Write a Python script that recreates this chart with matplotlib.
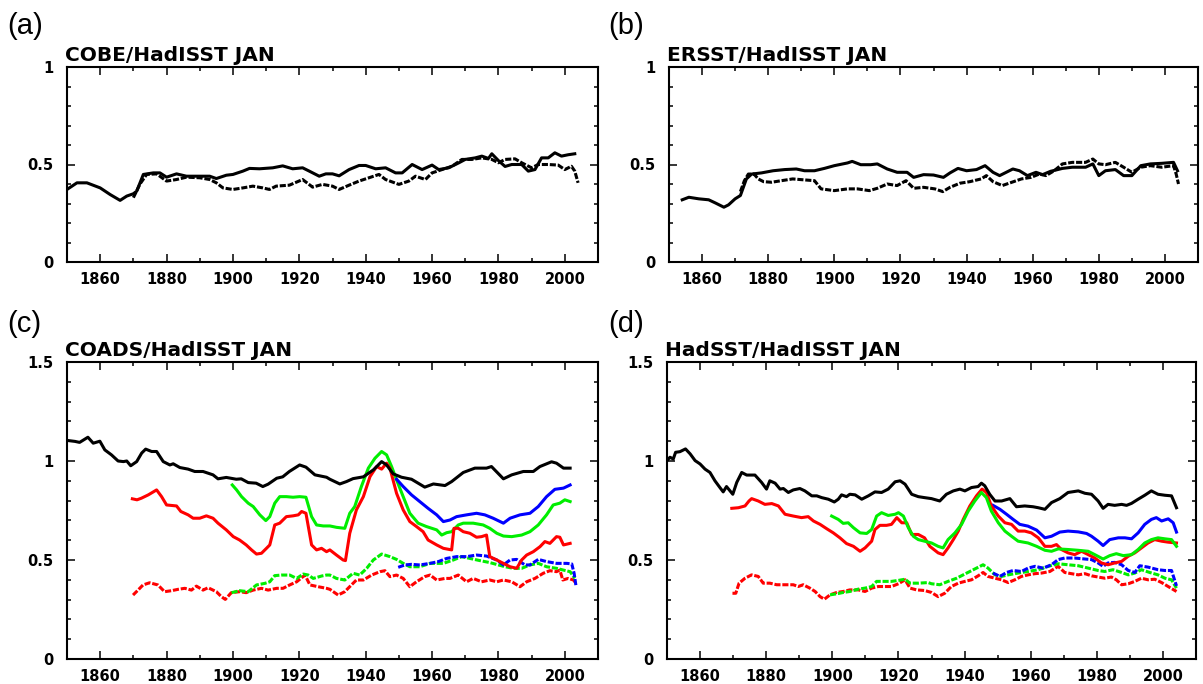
import numpy as np
import matplotlib
matplotlib.use("Agg")
import matplotlib.pyplot as plt
from matplotlib.ticker import MultipleLocator

# ---- (a) COBE / HadISST ----
a_solid_yr = [1850,1853,1856,1860,1863,1866,1868,1870,1871,1873,1876,1878,1880,1883,1886,1890,1893,1895,1898,1900,
              1903,1905,1908,1912,1915,1918,1921,1923,1926,1928,1930,1932,1935,1938,1940,1943,1946,1949,1951,1954,
              1957,1960,1962,1965,1968,1970,1973,1975,1977,1978,1980,1982,1984,1987,1989,1991,1993,1995,1997,1999,
              2001,2003]
a_solid = [0.372,0.406,0.406,0.38,0.346,0.316,0.338,0.35,0.363,0.449,0.457,0.457,0.435,0.452,0.44,0.44,0.44,0.428,0.445,0.449,
           0.466,0.48,0.478,0.483,0.493,0.478,0.483,0.466,0.44,0.452,0.452,0.442,0.474,0.495,0.495,0.478,0.483,0.457,0.457,0.5,
           0.474,0.497,0.474,0.483,0.508,0.526,0.534,0.543,0.531,0.555,0.52,0.49,0.5,0.5,0.466,0.474,0.534,0.534,0.56,0.543,
           0.55,0.555]
a_dash_yr = [1870,1872,1874,1877,1880,1883,1886,1890,1893,1895,1897,1900,1903,1906,1909,1911,1913,1917,1921,1924,
             1927,1930,1932,1935,1938,1941,1944,1946,1950,1953,1955,1958,1960,1963,1966,1969,1972,1975,1978,1980,
             1982,1985,1987,1990,1992,1995,1998,2000,2002,2003,2004]
a_dash = [0.33,0.40,0.449,0.452,0.415,0.423,0.435,0.432,0.423,0.406,0.38,0.372,0.38,0.389,0.38,0.372,0.389,0.394,0.423,0.384,
          0.398,0.389,0.372,0.394,0.415,0.432,0.449,0.423,0.398,0.415,0.44,0.423,0.457,0.474,0.491,0.526,0.526,0.534,0.526,0.509,
          0.526,0.529,0.509,0.483,0.5,0.5,0.497,0.474,0.491,0.466,0.406]

# ---- (b) ERSST / HadISST ----
b_solid_yr = [1854,1856,1859,1862,1864,1866.6,1868,1870,1871.6,1873.4,1875,1878,1881.5,1885,1888.5,1891,1894,1897,1900,1904,
              1905.4,1908,1911,1913,1916,1919,1922,1924,1927,1930,1933,1935,1937.4,1940,1943,1945.6,1948,1950,1954,1956,
              1958.4,1961,1963,1965.4,1969,1972,1976,1978.2,1980,1982,1985,1987.5,1990,1992.7,1995.6,1999,2002.6,2003.8]
b_solid = [0.319,0.332,0.324,0.319,0.303,0.281,0.293,0.324,0.341,0.426,0.451,0.457,0.468,0.474,0.477,0.468,0.468,0.48,0.494,0.508,
           0.516,0.499,0.499,0.503,0.477,0.46,0.46,0.434,0.448,0.446,0.434,0.457,0.48,0.468,0.474,0.494,0.46,0.443,0.477,0.468,
           0.443,0.46,0.448,0.465,0.48,0.486,0.486,0.503,0.443,0.468,0.474,0.443,0.443,0.494,0.503,0.506,0.511,0.468]
b_dash_yr = [1871.6,1872.8,1874,1875.7,1877,1878.6,1881,1884,1887.4,1891,1894,1896,1900,1904,1907,1910.6,1913,1916,1919,1921.7,
             1924,1927,1930.4,1932.8,1935,1938,1941,1944.4,1946,1948,1950.8,1953.7,1956.6,1959.5,1962,1964,1966.5,1969,1972,1976,
             1978.2,1980,1982,1985,1987.5,1990,1992.7,1995.6,1999,2002.6,2003.4,2004.1]
b_dash = [0.361,0.417,0.451,0.451,0.426,0.412,0.409,0.417,0.426,0.421,0.417,0.375,0.366,0.375,0.375,0.366,0.378,0.4,0.392,0.417,
          0.378,0.383,0.375,0.361,0.383,0.404,0.412,0.426,0.443,0.412,0.392,0.409,0.426,0.434,0.451,0.443,0.468,0.503,0.511,0.511,
          0.528,0.503,0.499,0.511,0.486,0.46,0.486,0.494,0.486,0.494,0.451,0.4]

# ---- (c) COADS / HadISST ----
c_black_yr = [1850,1852.4,1853.8,1856.3,1857.9,1859.9,1861.4,1863.4,1865.4,1867,1868,1869.2,1871,1872.5,1873.7,1875.5,1877,1879,1881,1882,
              1884,1886.5,1888.5,1891,1894,1895.5,1898,1901,1902.5,1904.6,1907,1909,1910.6,1913.2,1915,1917,1920.1,1922,1924.7,1928.2,
              1929.2,1932.2,1934.2,1936.2,1939.3,1942.3,1944.8,1946.3,1948.3,1950.8,1953.8,1957.8,1960.4,1963.9,1965.9,1969.4,1972.9,1976.4,1977.9,1981.5,
              1984,1987.5,1990.5,1992.5,1996,1997.5,1999.6,2001.6]
c_black = [1.104,1.099,1.094,1.12,1.09,1.10,1.056,1.031,1.0,0.997,1.0,0.976,0.997,1.04,1.06,1.048,1.048,0.997,0.98,0.986,
           0.967,0.959,0.947,0.947,0.93,0.91,0.917,0.908,0.91,0.891,0.888,0.871,0.883,0.913,0.92,0.947,0.98,0.969,0.93,0.918,
           0.908,0.884,0.896,0.911,0.92,0.955,0.997,0.98,0.935,0.918,0.908,0.868,0.884,0.876,0.896,0.942,0.964,0.964,0.972,0.91,
           0.93,0.947,0.947,0.972,0.996,0.989,0.964,0.964]
c_red_yr = [1869.7,1871.1,1872.4,1874.5,1877,1878.5,1880,1883,1884.3,1886.5,1888,1890,1892,1894,1895.5,1898,1900.1,1902,1904,1905.6,
            1907.1,1908.6,1910.1,1911.1,1912.6,1914.1,1916.1,1918.1,1919.7,1920.7,1922,1923.7,1925.2,1926.7,1928.2,1929.2,1931.2,1933.2,1933.9,1935.2,
            1937.2,1939.3,1941.3,1943.3,1944.8,1946.3,1947.3,1949.3,1951.3,1953.3,1955.3,1957.3,1958.8,1961.4,1963.4,1965.9,1966.6,1967.9,1969.4,1971.4,
            1973.4,1974.9,1976.4,1977.4,1979.5,1981.5,1983.5,1985.5,1987,1988.5,1990.5,1992.5,1994,1995.5,1997.5,1998.5,1999.6,2001.6]
c_red = [0.809,0.804,0.812,0.829,0.854,0.82,0.778,0.773,0.745,0.728,0.711,0.711,0.723,0.711,0.686,0.652,0.618,0.601,0.576,0.551,
         0.53,0.534,0.559,0.576,0.677,0.686,0.719,0.723,0.728,0.745,0.736,0.576,0.551,0.559,0.542,0.551,0.525,0.5,0.497,0.635,
         0.753,0.82,0.921,0.972,0.959,0.989,0.964,0.837,0.753,0.694,0.669,0.643,0.601,0.576,0.559,0.551,0.66,0.66,0.643,0.635,
         0.615,0.618,0.626,0.517,0.5,0.483,0.466,0.458,0.5,0.525,0.542,0.567,0.593,0.584,0.618,0.615,0.576,0.584]
c_green_yr = [1899.8,1901.1,1902.6,1904.6,1906.1,1908.1,1909.9,1911.1,1912.6,1914.1,1916.1,1918.1,1920.1,1922,1923.7,1925.2,1927.2,1929.2,1931.2,1933.7,
              1935.2,1936.7,1938.7,1940.8,1942.8,1944.8,1946.3,1947.8,1949.3,1951.3,1953.3,1955.8,1958.3,1961.4,1962.9,1964.4,1965.9,1967.9,1969.4,1972.4,
              1975.4,1977.4,1979.5,1981.5,1984,1987,1989.5,1992,1994.5,1996.5,1998.5,2000,2001.6]
c_green = [0.879,0.854,0.82,0.787,0.77,0.728,0.699,0.719,0.787,0.82,0.82,0.817,0.82,0.817,0.719,0.677,0.672,0.672,0.665,0.66,
           0.736,0.77,0.871,0.964,1.014,1.048,1.031,0.972,0.905,0.82,0.736,0.686,0.669,0.652,0.626,0.638,0.643,0.677,0.686,0.686,
           0.677,0.66,0.635,0.621,0.618,0.626,0.643,0.677,0.728,0.778,0.787,0.804,0.795]
c_blue_yr = [1949.3,1951.3,1953.8,1956.3,1958.8,1961.4,1963.4,1965.4,1967.4,1970.4,1973.4,1975.9,1978.4,1981.5,1983.5,1986.5,1989.5,1992,1994.5,1997,
             1999.6,2001.6]
c_blue = [0.908,0.871,0.829,0.795,0.761,0.728,0.694,0.702,0.719,0.728,0.736,0.728,0.711,0.686,0.711,0.728,0.736,0.77,0.82,0.857,
          0.863,0.879]
c_red_d_yr = [1869.9,1871.4,1872.9,1874.9,1877.4,1879.4,1881.5,1883.5,1885.5,1887.5,1889,1891,1892.5,1895,1896.5,1897.7,1899.5,1902,1904,1906.1,
              1908.6,1910.6,1913.2,1915.1,1917.1,1919.2,1921.7,1923.2,1925.7,1928.2,1929.2,1931.7,1933.7,1935.7,1937.2,1939.3,1941.8,1944.3,1945.8,1947.3,
              1949.3,1951.3,1953.3,1955.3,1957.8,1959.4,1961.4,1963.9,1965.4,1967.9,1970.4,1972.4,1974.9,1977.4,1979.5,1981.5,1984,1986.5,1988.5,1991,
              1993.5,1995.5,1997.5,1998.5,1999.4,2001,2002.6,2003.4]
c_red_d = [0.323,0.348,0.374,0.385,0.374,0.34,0.345,0.352,0.357,0.348,0.368,0.348,0.36,0.34,0.315,0.301,0.335,0.34,0.335,0.348,
           0.357,0.348,0.357,0.357,0.374,0.39,0.424,0.374,0.365,0.357,0.352,0.323,0.34,0.374,0.399,0.399,0.424,0.441,0.446,0.416,
           0.424,0.407,0.365,0.39,0.416,0.424,0.399,0.407,0.407,0.424,0.39,0.407,0.39,0.399,0.39,0.399,0.39,0.365,0.39,0.407,
           0.433,0.446,0.441,0.449,0.399,0.407,0.399,0.382]
c_green_d_yr = [1899.6,1902,1904.6,1907.1,1909.6,1911.1,1912.6,1914.6,1917.1,1919.2,1921.2,1922.7,1924.2,1926.7,1928.2,1929.2,1931.2,1933.7,1936.2,1938.2,
                1940.3,1942.3,1944.8,1947.3,1949.3,1951.3,1953.3,1956.3,1959.4,1963.4,1966.4,1968.9,1971.4,1974.4,1977.4,1980,1982,1984.5,1987,1989.5,
                1992,1994.5,1997.5,1999.6,2001.6,2003]
c_green_d = [0.335,0.345,0.34,0.374,0.382,0.39,0.421,0.424,0.424,0.407,0.429,0.424,0.407,0.419,0.424,0.424,0.407,0.399,0.433,0.424,
             0.458,0.5,0.53,0.517,0.503,0.483,0.466,0.466,0.483,0.483,0.5,0.517,0.508,0.497,0.487,0.475,0.466,0.458,0.458,0.475,
             0.483,0.466,0.458,0.449,0.441,0.407]
c_blue_d_yr = [1949.8,1951.8,1953.8,1956.3,1959.4,1961.9,1964.4,1967.4,1970.4,1973.4,1976.4,1979.5,1981.5,1983.5,1985.5,1988,1989.5,1992,1994.5,1997.5,
               2000.6,2002.1,2002.8,2003.4]
c_blue_d = [0.463,0.475,0.478,0.475,0.483,0.492,0.508,0.517,0.517,0.525,0.52,0.5,0.475,0.5,0.503,0.475,0.475,0.503,0.492,0.483,
            0.483,0.48,0.433,0.365]

# ---- (d) HadSST / HadISST ----
d_black_yr = [1850,1850.9,1851.9,1852.6,1853.9,1855.6,1857,1858.5,1860,1861.5,1863,1864.5,1866,1867,1868,1869.9,1871.1,1872.6,1874.1,1876.6,
              1878.6,1880.1,1881.1,1882.7,1884.2,1885.2,1886.7,1888.2,1890.2,1891.7,1893.8,1895.3,1896.8,1898.8,1900.6,1901.8,1902.8,1904.3,1905.3,1906.9,
              1908.9,1910.9,1912.9,1914.9,1916.9,1919,1920.5,1922,1924,1926,1927.9,1930,1932.5,1934.5,1936.6,1938.6,1940.1,1942.1,1944.1,1945.1,
              1946.1,1947.6,1949.2,1951.2,1953.7,1955.7,1958.2,1960.7,1962.3,1964.3,1966.3,1968.8,1971.3,1974.4,1976.4,1978.4,1980.4,1981.9,1983.4,1985.4,
              1987.5,1989,1990.5,1992.5,1994.5,1996.5,1998.5,2000.6,2002.6,2004.1]
d_black = [1.002,1.019,1.01,1.044,1.047,1.061,1.036,1.002,0.985,0.959,0.942,0.9,0.866,0.844,0.871,0.832,0.892,0.942,0.929,0.929,
           0.892,0.858,0.9,0.888,0.858,0.861,0.841,0.854,0.861,0.849,0.824,0.824,0.815,0.807,0.793,0.807,0.829,0.82,0.832,0.829,
           0.807,0.824,0.844,0.841,0.858,0.895,0.9,0.883,0.832,0.82,0.815,0.81,0.798,0.832,0.849,0.858,0.849,0.866,0.871,0.888,
           0.875,0.832,0.798,0.798,0.81,0.769,0.773,0.769,0.764,0.756,0.79,0.81,0.841,0.849,0.837,0.832,0.798,0.761,0.781,0.776,
           0.781,0.776,0.786,0.807,0.827,0.849,0.832,0.827,0.824,0.764]
d_red_yr = [1869.6,1871.6,1873.6,1874.8,1875.6,1877.6,1879.6,1881.7,1883.7,1885.7,1888.2,1890.7,1892.7,1894.3,1896.3,1898.3,1900.3,1902.3,1904.3,1906.4,
            1908.4,1909.9,1911.9,1912.9,1914.4,1916.4,1917.9,1919.5,1921,1922.5,1924,1926,1927.9,1929.5,1932,1933.5,1935,1936.6,1938.1,1939.6,
            1941.6,1943.6,1945.3,1946.6,1948.1,1950.2,1952.2,1954.2,1956.2,1958.2,1960.2,1962.3,1964.3,1966.3,1967.8,1969.3,1971.3,1973.3,1975.4,1977.4,
            1979.4,1981.4,1983.4,1985.4,1987.5,1989.5,1991.5,1993.5,1995.5,1997.5,1999.6,2001.6,2004.1]
d_red = [0.761,0.764,0.773,0.798,0.81,0.798,0.781,0.785,0.773,0.731,0.722,0.714,0.719,0.697,0.68,0.658,0.637,0.612,0.583,0.569,
         0.544,0.561,0.595,0.654,0.675,0.675,0.68,0.714,0.688,0.688,0.629,0.629,0.612,0.569,0.536,0.527,0.561,0.603,0.646,0.705,
         0.773,0.824,0.858,0.841,0.773,0.722,0.688,0.68,0.646,0.646,0.637,0.612,0.569,0.569,0.578,0.553,0.536,0.527,0.544,0.527,
         0.51,0.485,0.476,0.485,0.493,0.519,0.536,0.561,0.586,0.603,0.595,0.59,0.586]
d_green_yr = [1899.8,1901.8,1903.3,1904.8,1906.4,1908.4,1910.4,1911.9,1913.4,1914.9,1916.9,1919,1920,1921.5,1923,1924.5,1926,1927.9,1930,1932,
              1933.5,1935,1937.1,1939.1,1941.1,1943.1,1945.1,1946.6,1948.1,1950.2,1952.2,1954.2,1956.2,1959.2,1961.8,1964.3,1966.3,1968.3,1971.3,1974.4,
              1977.4,1979.4,1981.9,1983.9,1985.9,1988,1990.5,1992.5,1994.5,1996.5,1998.5,2000.6,2002.6,2004.1]
d_green = [0.722,0.705,0.685,0.688,0.663,0.637,0.634,0.654,0.722,0.739,0.725,0.731,0.739,0.722,0.663,0.62,0.603,0.595,0.586,0.569,
           0.561,0.603,0.637,0.68,0.747,0.798,0.841,0.815,0.747,0.688,0.646,0.62,0.595,0.586,0.569,0.549,0.544,0.556,0.553,0.549,
           0.544,0.527,0.505,0.522,0.532,0.522,0.527,0.553,0.586,0.603,0.612,0.607,0.603,0.569]
d_blue_yr = [1948.6,1950.7,1952.7,1954.7,1956.7,1959.2,1961.8,1964.3,1966.3,1968.8,1971.3,1974.4,1976.9,1978.4,1980.4,1981.9,1983.9,1986.5,1988.5,1990.5,
             1992.5,1994.5,1996.5,1998,1999.6,2001.6,2003.1,2004.1]
d_blue = [0.776,0.756,0.731,0.705,0.68,0.671,0.651,0.612,0.62,0.641,0.646,0.642,0.634,0.62,0.595,0.573,0.603,0.612,0.612,0.607,
          0.637,0.68,0.705,0.714,0.697,0.708,0.688,0.641]
d_red_d_yr = [1869.8,1870.8,1871.8,1873.6,1875.6,1877.6,1879.1,1881.1,1883.2,1885.7,1888.2,1889.7,1891.2,1893.2,1894.8,1896.3,1897.6,1899.3,1901.3,1903.3,
              1905.3,1907.9,1909.9,1911.9,1913.9,1915.9,1917.9,1920,1922,1923.5,1925.5,1927.9,1930,1932,1934,1936,1938.1,1940.1,1942.1,1944.1,
              1945.6,1947.1,1949.2,1951.2,1953.2,1955.2,1957.2,1959.2,1961.3,1963.3,1965.8,1968.3,1970.3,1972.3,1974.4,1976.4,1978.4,1980.4,1982.4,1984.4,
              1985.9,1987.5,1989.5,1991.5,1993.5,1995.5,1997.5,1999.6,2001.6,2004.1]
d_red_d = [0.332,0.332,0.383,0.408,0.425,0.417,0.383,0.383,0.375,0.375,0.375,0.366,0.375,0.358,0.341,0.315,0.302,0.324,0.336,0.341,
           0.349,0.349,0.341,0.358,0.366,0.366,0.366,0.38,0.4,0.358,0.349,0.346,0.336,0.315,0.332,0.366,0.383,0.392,0.4,0.42,
           0.437,0.417,0.408,0.4,0.386,0.4,0.417,0.425,0.431,0.434,0.442,0.468,0.437,0.431,0.425,0.431,0.42,0.414,0.408,0.414,
           0.4,0.375,0.38,0.392,0.408,0.4,0.403,0.386,0.366,0.341]
d_green_d_yr = [1899.3,1901.3,1903.3,1905.3,1907.9,1909.9,1911.9,1913.4,1915.4,1917.9,1920,1922,1923.5,1926,1929,1930,1932.5,1935,1937.6,1939.6,
                1941.6,1943.6,1945.6,1947.1,1949.2,1951.2,1953.2,1956.2,1959.2,1962.3,1965.3,1968.3,1971.3,1974.4,1977.4,1980.4,1982.4,1984.9,1987.5,1989.5,
                1991.5,1993.5,1996,1998.5,2000.6,2002.6,2004.1]
d_green_d = [0.324,0.329,0.336,0.341,0.353,0.358,0.366,0.392,0.392,0.392,0.397,0.403,0.383,0.383,0.386,0.38,0.375,0.392,0.408,0.425,
             0.442,0.459,0.476,0.459,0.425,0.417,0.425,0.434,0.442,0.451,0.468,0.481,0.476,0.471,0.459,0.447,0.442,0.451,0.437,0.425,
             0.434,0.451,0.437,0.425,0.408,0.4,0.358]
d_blue_d_yr = [1948.6,1950.7,1952.7,1954.7,1957.2,1959.2,1961.3,1963.8,1966.3,1968.3,1970.3,1973.3,1976.4,1978.4,1980.4,1981.9,1983.4,1985.4,1987.5,1989.5,
               1991.5,1993,1995.5,1998.5,2000.6,2002.6,2004.1]
d_blue_d = [0.434,0.417,0.437,0.447,0.442,0.459,0.468,0.459,0.476,0.502,0.51,0.51,0.505,0.502,0.485,0.468,0.485,0.488,0.476,0.447,
            0.437,0.471,0.464,0.451,0.447,0.447,0.369]

titles = ["COBE/HadISST JAN", "ERSST/HadISST JAN", "COADS/HadISST JAN", "HadSST/HadISST JAN"]
letters = ["(a)", "(b)", "(c)", "(d)"]
year_ticks = [1860, 1880, 1900, 1920, 1940, 1960, 1980, 2000]

RED = "#ff0000"
GREEN = "#00ee00"
BLUE = "#0000ff"
LW = 2.2
DASH = (0, (2.0, 0.6))

W, H = 1203, 684
fig = plt.figure(figsize=(W / 100, H / 100), dpi=100)

# axes boxes in pixels: left, top, right, bottom
boxes = [(67, 67, 598, 262), (669, 67, 1198, 262), (67, 362, 598, 659), (667, 362, 1196, 659)]
label_pos = [(7, 12), (608, 12), (7, 310), (608, 310)]
axes = []
for (l, t, r, b) in boxes:
    axes.append(fig.add_axes([l / W, 1 - b / H, (r - l) / W, (b - t) / H]))

tick_font = dict(family="DejaVu Sans", weight="bold", size=10.5)

for i, ax in enumerate(axes):
    top = 1.0 if i < 2 else 1.5
    ax.set_xlim(1850, 2010)
    ax.set_ylim(0, top)
    ax.set_xticks(year_ticks)
    ax.set_xticklabels([str(y) for y in year_ticks], fontdict=tick_font)
    yt = [0, 0.5, 1] if i < 2 else [0, 0.5, 1, 1.5]
    ax.set_yticks(yt)
    ax.set_yticklabels(["%g" % v for v in yt], fontdict=tick_font)
    ax.xaxis.set_minor_locator(MultipleLocator(10))
    ax.yaxis.set_minor_locator(MultipleLocator(0.1))
    ax.tick_params(which="both", direction="in", top=True, right=True, width=1.1)
    ax.tick_params(which="major", length=5.5)
    ax.tick_params(which="minor", length=3)
    ax.tick_params(axis="x", which="major", pad=7)
    ax.tick_params(axis="y", which="major", pad=10)
    for s in ax.spines.values():
        s.set_linewidth(1.5)
    ax.annotate(titles[i], xy=(0, 1), xycoords="axes fraction", xytext=(-1.5, 4.3),
                textcoords="offset points", ha="left", va="baseline",
                fontsize=14.5, fontweight="bold", family="DejaVu Sans")
    lx, ly = label_pos[i]
    fig.text(lx / W, 1 - ly / H, letters[i], ha="left", va="top",
             fontsize=21, family="Liberation Sans")

# (a)
axes[0].plot(a_dash_yr, a_dash, color="black", lw=LW, linestyle=DASH)
axes[0].plot(a_solid_yr, a_solid, color="black", lw=LW)
# (b)
axes[1].plot(b_dash_yr, b_dash, color="black", lw=LW, linestyle=DASH)
axes[1].plot(b_solid_yr, b_solid, color="black", lw=LW)
# (c)
ax = axes[2]
ax.plot(c_red_d_yr, c_red_d, color=RED, lw=LW, linestyle=DASH)
ax.plot(c_green_d_yr, c_green_d, color=GREEN, lw=LW, linestyle=DASH)
ax.plot(c_blue_d_yr, c_blue_d, color=BLUE, lw=LW, linestyle=DASH)
ax.plot(c_green_yr, c_green, color=GREEN, lw=LW)
ax.plot(c_red_yr, c_red, color=RED, lw=LW)
ax.plot(c_blue_yr, c_blue, color=BLUE, lw=LW)
ax.plot(c_black_yr, c_black, color="black", lw=LW)
# (d)
ax = axes[3]
ax.plot(d_red_d_yr, d_red_d, color=RED, lw=LW, linestyle=DASH)
ax.plot(d_green_d_yr, d_green_d, color=GREEN, lw=LW, linestyle=DASH)
ax.plot(d_blue_d_yr, d_blue_d, color=BLUE, lw=LW, linestyle=DASH)
ax.plot(d_blue_yr, d_blue, color=BLUE, lw=LW)
ax.plot(d_red_yr, d_red, color=RED, lw=LW)
ax.plot(d_green_yr, d_green, color=GREEN, lw=LW)
ax.plot(d_black_yr, d_black, color="black", lw=LW)

fig.savefig("out.png", dpi=100)
